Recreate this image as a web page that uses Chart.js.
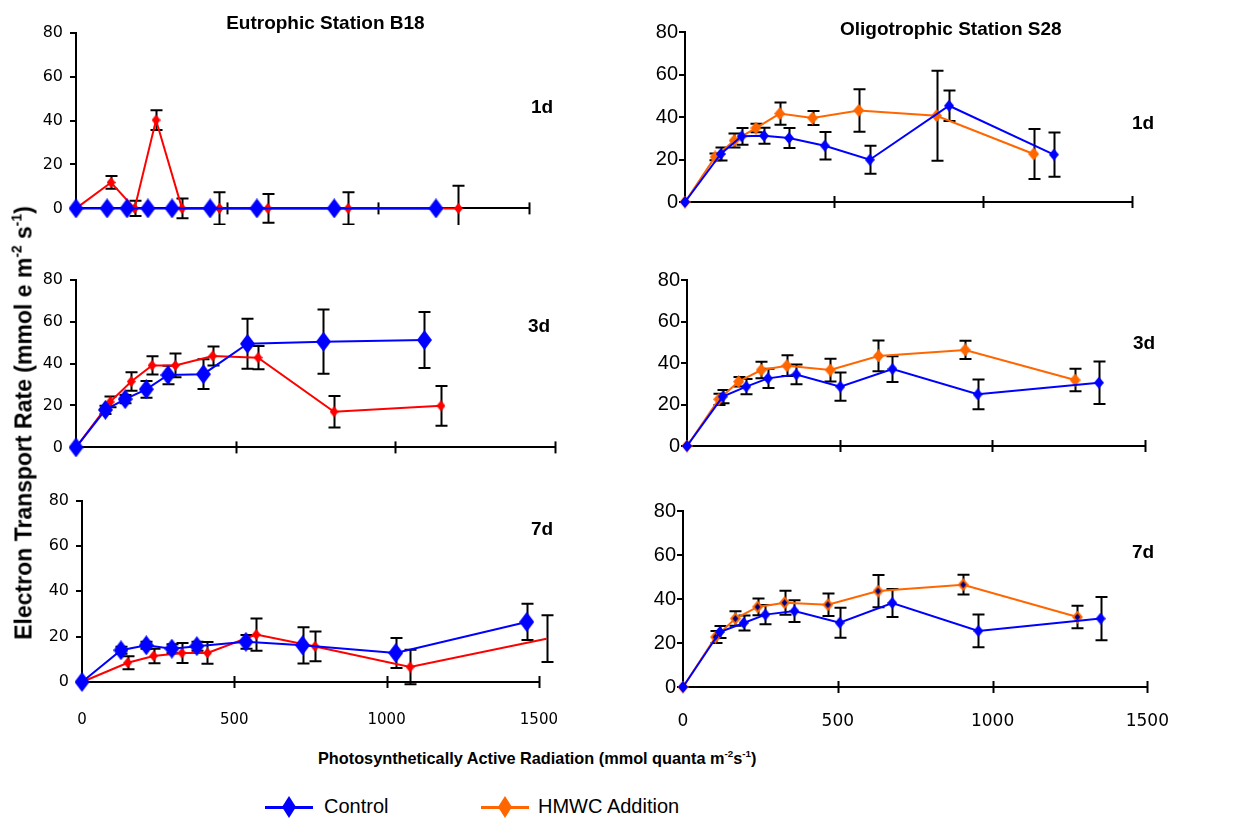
<!DOCTYPE html>
<html>
<head>
<meta charset="utf-8">
<script src="https://cdn.jsdelivr.net/npm/chart.js@4.4.1/dist/chart.umd.min.js"></script>
<style>
  html, body { margin: 0; padding: 0; }
  body { width: 1234px; height: 821px; background: #fff; position: relative; overflow: hidden;
         font-family: 'Liberation Sans', Arial, sans-serif; color: #000; }
  canvas { position: absolute; }
  .txt { position: absolute; white-space: nowrap; line-height: 1; }
  .b { font-weight: bold; }
  sup { font-size: 60%; line-height: 0; position: relative; top: -0.1em; vertical-align: super; }
  .legline { position: absolute; height: 3px; }
  .legdia { position: absolute; clip-path: polygon(50% 0, 100% 50%, 50% 100%, 0 50%); }
</style>
</head>
<body>
<script>
// ---------------- DATA ----------------
const xTickValues = [0, 500, 1000, 1500];
const yTickValues = [0, 20, 40, 60, 80];
const seriesNames = ['Control', 'HMWC Addition'];
const dayLabels = ['1d', '3d', '7d'];
const stationTitles = ['Eutrophic Station B18', 'Oligotrophic Station S28'];

// Eutrophic Station B18, 1 d
const b18d1CtrlX   = [0, 103, 169, 238, 318, 444, 599, 855, 1192];
const b18d1CtrlY   = [0, 0, 0, 0, 0, 0, 0, 0, 0];
const b18d1CtrlErr = [0, 0, 0, 0, 0, 0, 0, 0, 0];
const b18d1HmwcX   = [0, 116, 194, 265, 351, 475, 635, 901, 1266];
const b18d1HmwcY   = [0, 11.8, 0, 40.2, 0, 0, 0, 0, 0];
const b18d1HmwcErr = [0, 2.9, 3.5, 4.5, 4.5, 7.3, 6.5, 7.3, 10.3];

// Oligotrophic Station S28, 1 d
const s28d1CtrlX   = [0, 120, 190, 265, 349, 469, 620, 886, 1238];
const s28d1CtrlY   = [0, 22.6, 30.9, 31.2, 30.1, 26.5, 19.9, 45.3, 22.3];
const s28d1CtrlErr = [0, 3.1, 3.9, 3.8, 4.7, 6.5, 6.6, 7.2, 10.4];
const s28d1HmwcX   = [0, 101, 165, 238, 318, 428, 583, 844, 1170];
const s28d1HmwcY   = [0, 21.2, 28.9, 34.8, 41.6, 39.5, 43.1, 40.6, 22.6];
const s28d1HmwcErr = [0, 1.6, 3.3, 2.0, 5.2, 3.3, 10.0, 21.2, 11.8];

// Eutrophic Station B18, 3 d
const b18d3CtrlX   = [0, 92, 154, 220, 288, 399, 537, 775, 1091];
const b18d3CtrlY   = [0, 17.9, 23.0, 27.7, 34.5, 34.9, 49.4, 50.4, 51.2];
const b18d3CtrlErr = [0, 2.0, 2.0, 4.0, 4.4, 7.1, 11.9, 15.3, 13.4];
const b18d3HmwcX   = [0, 107, 173, 238, 311, 428, 570, 808, 1143];
const b18d3HmwcY   = [0, 21.7, 31.4, 39.1, 39.1, 43.6, 42.8, 17.0, 19.8];
const b18d3HmwcErr = [0, 2.6, 4.4, 4.4, 5.7, 4.5, 5.5, 7.5, 9.5];

// Oligotrophic Station S28, 3 d
const s28d3CtrlX   = [0, 117, 194, 265, 358, 502, 673, 952, 1349];
const s28d3CtrlY   = [0, 23.8, 28.6, 32.6, 34.5, 28.6, 37.1, 24.9, 30.5];
const s28d3CtrlErr = [0, 3.2, 3.7, 4.6, 4.8, 6.8, 6.2, 7.2, 10.2];
const s28d3HmwcX   = [0, 104, 169, 243, 327, 469, 627, 911, 1271];
const s28d3HmwcY   = [0, 22.5, 31.0, 36.6, 38.7, 36.6, 43.4, 46.3, 31.8];
const s28d3HmwcErr = [0, 2.7, 2.3, 4.0, 5.0, 5.5, 7.4, 4.4, 5.4];

// Eutrophic Station B18, 7 d
const b18d7CtrlX   = [0, 128, 211, 295, 377, 538, 724, 1030, 1460];
const b18d7CtrlY   = [0, 14.0, 16.2, 14.7, 15.8, 17.7, 16.2, 12.8, 26.5];
const b18d7CtrlErr = [0, 1.5, 1.5, 2.0, 2.0, 3.0, 8.0, 6.6, 8.0];
const b18d7HmwcX   = [0, 150, 235, 328, 412, 572, 765, 1077, 1525];
const b18d7HmwcY   = [0, 8.5, 11.5, 12.8, 12.8, 20.9, 15.7, 6.6, 19.1];
const b18d7HmwcErr = [0, 2.9, 3.2, 4.4, 4.8, 7.1, 6.6, 7.6, 10.3];

// Oligotrophic Station S28, 7 d
const s28d7CtrlX   = [0, 119, 196, 266, 360, 506, 676, 954, 1349];
const s28d7CtrlY   = [0, 25.0, 29.1, 32.9, 34.5, 29.2, 38.2, 25.5, 31.1];
const s28d7CtrlErr = [0, 2.7, 3.4, 4.4, 4.9, 6.8, 6.4, 7.4, 9.8];
const s28d7HmwcX   = [0, 105, 169, 241, 328, 468, 630, 905, 1274];
const s28d7HmwcY   = [0, 22.7, 31.1, 36.4, 38.3, 37.4, 43.6, 46.5, 31.8];
const s28d7HmwcErr = [0, 2.7, 3.3, 3.8, 5.5, 5.1, 7.3, 4.5, 5.1];

// ---------------- LAYOUT / STYLE ----------------
const panels = [
  { L: 75.7,  R: 529,    T: 32.3,  B: 208.3, left: true,  showX: false, label: dayLabels[0], lx: 542,  ly: 106,
    ctrl: [b18d1CtrlX, b18d1CtrlY, b18d1CtrlErr], hmwc: [b18d1HmwcX, b18d1HmwcY, b18d1HmwcErr] },
  { L: 685,   R: 1132.3, T: 32.3,  B: 202.3, left: false, showX: false, label: dayLabels[0], lx: 1143, ly: 122,
    ctrl: [s28d1CtrlX, s28d1CtrlY, s28d1CtrlErr], hmwc: [s28d1HmwcX, s28d1HmwcY, s28d1HmwcErr] },
  { L: 75.7,  R: 555,    T: 280,   B: 448.3, left: true,  showX: false, label: dayLabels[1], lx: 539,  ly: 325,
    ctrl: [b18d3CtrlX, b18d3CtrlY, b18d3CtrlErr], hmwc: [b18d3HmwcX, b18d3HmwcY, b18d3HmwcErr] },
  { L: 686.7, R: 1145,   T: 280,   B: 446,   left: false, showX: false, label: dayLabels[1], lx: 1144, ly: 342,
    ctrl: [s28d3CtrlX, s28d3CtrlY, s28d3CtrlErr], hmwc: [s28d3HmwcX, s28d3HmwcY, s28d3HmwcErr] },
  { L: 81.7,  R: 539,    T: 500.7, B: 681.7, left: true,  showX: true,  label: dayLabels[2], lx: 542,  ly: 528,
    ctrl: [b18d7CtrlX, b18d7CtrlY, b18d7CtrlErr], hmwc: [b18d7HmwcX, b18d7HmwcY, b18d7HmwcErr] },
  { L: 682.7, R: 1146.7, T: 510.7, B: 686.7, left: false, showX: true,  label: dayLabels[2], lx: 1143, ly: 551, navyCore: true,
    ctrl: [s28d7CtrlX, s28d7CtrlY, s28d7CtrlErr], hmwc: [s28d7HmwcX, s28d7HmwcY, s28d7HmwcErr] }
];

const BLUE = '#0000FF', RED = '#FF0000', ORANGE = '#FF6600', NAVY = '#000080';

function diamond(w, h, fill, core) {
  const c = document.createElement('canvas');
  c.width = w; c.height = h;
  const g = c.getContext('2d');
  const poly = (i) => {
    g.beginPath();
    g.moveTo(w / 2, i * h / w); g.lineTo(w - i, h / 2);
    g.lineTo(w / 2, h - i * h / w); g.lineTo(i, h / 2); g.closePath();
  };
  poly(0); g.fillStyle = fill; g.fill();
  if (core) { poly(2.6); g.fillStyle = core; g.fill(); }
  return c;
}

const errorBars = {
  id: 'errorBars',
  beforeDatasetsDraw(chart) {
    const { ctx, scales: { x, y } } = chart;
    ctx.save();
    ctx.strokeStyle = '#000'; ctx.lineWidth = 2;
    chart.data.datasets.forEach(ds => {
      if (!ds.errors) return;
      ds.data.forEach((p, i) => {
        const e = ds.errors[i];
        if (!e) return;
        const px = Math.round(x.getPixelForValue(p.x)) + 0.5;
        const top = y.getPixelForValue(p.y + e), bot = y.getPixelForValue(p.y - e);
        ctx.beginPath();
        ctx.moveTo(px, top); ctx.lineTo(px, bot);
        ctx.moveTo(px - 6, top); ctx.lineTo(px + 6, top);
        ctx.moveTo(px - 6, bot); ctx.lineTo(px + 6, bot);
        ctx.stroke();
      });
    });
    ctx.restore();
  }
};

const crossTicks = {
  id: 'crossTicks',
  beforeDatasetsDraw(chart) {
    const { ctx, scales: { x, y } } = chart;
    const b = y.getPixelForValue(0);
    ctx.save();
    ctx.strokeStyle = '#000'; ctx.lineWidth = 2;
    x.ticks.forEach(t => {
      if (t.value <= 0) return;
      const px = Math.round(x.getPixelForValue(t.value)) + 0.5;
      ctx.beginPath(); ctx.moveTo(px, b - 6); ctx.lineTo(px, b + 6); ctx.stroke();
    });
    ctx.restore();
  }
};

function toPoints(xs, ys) { return xs.map((v, i) => ({ x: v, y: ys[i] })); }

function config(p) {
  const ctrlImg = p.left ? diamond(15, 20, BLUE) : diamond(10, 12, BLUE);
  const hmwcColor = p.left ? RED : ORANGE;
  const hmwcImg = p.left ? diamond(9, 11, RED) : diamond(11, 13, ORANGE, p.navyCore ? NAVY : null);
  const yFont = p.left ? { family: 'DejaVu Sans', size: 16 } : { family: 'Liberation Sans', size: 20 };
  const xFont = p.left ? { family: 'DejaVu Sans', size: 15 } : { family: 'DejaVu Sans', size: 17 };
  return {
    type: 'line',
    data: {
      datasets: [
        { label: seriesNames[0], data: toPoints(p.ctrl[0], p.ctrl[1]), errors: p.ctrl[2],
          borderColor: BLUE, backgroundColor: BLUE, borderWidth: 2, tension: 0,
          pointStyle: ctrlImg, pointRadius: p.ctrl[0].map(v => v > 1500 ? 0 : 6), clip: false },
        { label: seriesNames[1], data: toPoints(p.hmwc[0], p.hmwc[1]), errors: p.hmwc[2],
          borderColor: hmwcColor, backgroundColor: hmwcColor, borderWidth: 2, tension: 0,
          pointStyle: hmwcImg, pointRadius: p.hmwc[0].map(v => v > 1500 ? 0 : 6), clip: false }
      ]
    },
    options: {
      responsive: false, maintainAspectRatio: false, animation: false,
      devicePixelRatio: 1,
      layout: { padding: { top: 14, right: 30, left: 0, bottom: 0 } },
      plugins: { legend: { display: false }, tooltip: { enabled: false } },
      events: [],
      scales: {
        x: {
          type: 'linear', min: 0, max: 1500,
          afterBuildTicks: s => { s.ticks = xTickValues.map(v => ({ value: v })); },
          grid: { display: false, drawTicks: false },
          border: { display: true, color: '#000', width: 2 },
          ticks: { display: p.showX, color: '#000', font: xFont, padding: p.left ? 29 : 24,
                   maxRotation: 0, autoSkip: false, callback: v => String(v) },
          afterFit: s => { s.height = p.showX ? 60 : 14; }
        },
        y: {
          type: 'linear', min: 0, max: 80,
          afterBuildTicks: s => { s.ticks = yTickValues.map(v => ({ value: v })); },
          grid: { display: true, drawOnChartArea: false, drawTicks: true, tickLength: 6, color: '#000', lineWidth: 2 },
          border: { display: true, color: '#000', width: 2 },
          ticks: { color: '#000', font: yFont, padding: p.left ? 7 : 1, autoSkip: false, callback: v => String(v) },
          afterFit: s => { s.width = 62; }
        }
      }
    },
    plugins: [crossTicks, errorBars]
  };
}

panels.forEach(p => {
  const cv = document.createElement('canvas');
  cv.width = 600; cv.height = 300;
  document.body.appendChild(cv);
  let ch = new Chart(cv, config(p));
  const a = ch.chartArea;
  const mL = a.left, mT = a.top, mR = ch.width - a.right, mB = ch.height - a.bottom;
  ch.destroy();
  cv.width = Math.round(p.R - p.L + mL + mR);
  cv.height = Math.round(p.B - p.T + mT + mB);
  cv.style.left = (p.L - mL) + 'px';
  cv.style.top = (p.T - mT) + 'px';
  ch = new Chart(cv, config(p));

  const lab = document.createElement('div');
  lab.className = 'txt b';
  lab.style.fontSize = '19px';
  lab.style.left = p.lx + 'px'; lab.style.top = p.ly + 'px';
  lab.style.transform = 'translate(-50%,-50%)';
  lab.textContent = p.label;
  document.body.appendChild(lab);
});

function addText(html, css) {
  const d = document.createElement('div');
  d.className = 'txt b';
  d.innerHTML = html;
  Object.assign(d.style, css);
  document.body.appendChild(d);
  return d;
}
addText(stationTitles[0], { left: '325.4px', top: '12.5px', fontSize: '19px', transform: 'translateX(-50%)' });
addText(stationTitles[1], { left: '950.8px', top: '18.5px', fontSize: '19px', transform: 'translateX(-50%)' });
addText('Electron Transport Rate (mmol e m<sup>-2</sup> s<sup>-1</sup>)',
  { left: '23.5px', top: '423px', fontSize: '23px', transform: 'translate(-50%,-50%) rotate(-90deg)' });
addText('Photosynthetically Active Radiation (mmol quanta m<sup>-2</sup>s<sup>-1</sup>)',
  { left: '318px', top: '750px', fontSize: '16.3px' });

// legend
function legendItem(x0, color, text, textLeft) {
  const ln = document.createElement('div');
  ln.className = 'legline';
  Object.assign(ln.style, { left: x0 + 'px', top: '806px', width: '48px', background: color });
  document.body.appendChild(ln);
  const dm = document.createElement('div');
  dm.className = 'legdia';
  Object.assign(dm.style, { left: (x0 + 24 - 7) + 'px', top: (807 - 11) + 'px', width: '14px', height: '22px', background: color });
  document.body.appendChild(dm);
  const t = document.createElement('div');
  t.className = 'txt';
  Object.assign(t.style, { left: textLeft + 'px', top: '796px', fontSize: '20px' });
  t.textContent = text;
  document.body.appendChild(t);
}
legendItem(265, BLUE, seriesNames[0], 324);
legendItem(481, ORANGE, seriesNames[1], 538);
</script>
</body>
</html>
